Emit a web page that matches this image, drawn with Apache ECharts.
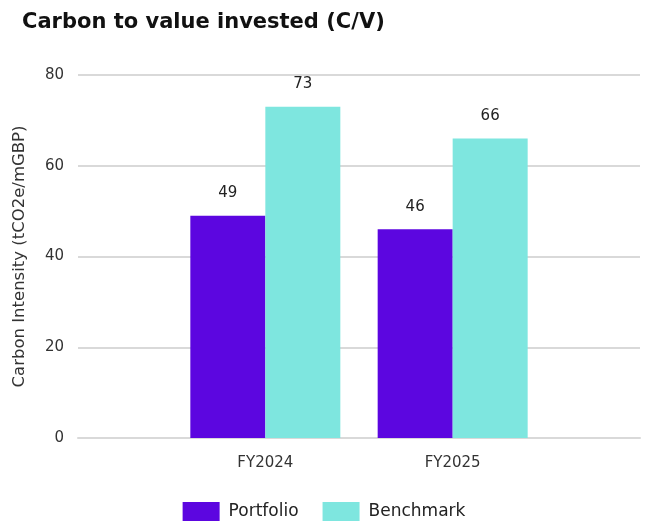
<!DOCTYPE html>
<html>
<head>
<meta charset="utf-8">
<script src="https://cdn.jsdelivr.net/npm/echarts@6/dist/echarts.min.js"></script>
<style>
  html, body { margin: 0; padding: 0; background: #fff; }
  #chart { width: 648px; height: 529px; }
</style>
</head>
<body>
<div id="chart"></div>
<script>
// empty slots at each end keep the two groups centred like the original
const categories = ['', 'FY2024', 'FY2025', '']
const portfolio = ['-', 49, 46, '-']
const benchmark = ['-', 73, 66, '-']
const yTicks = [0, 20, 40, 60, 80]

const myChart = echarts.init(document.getElementById('chart'))
const font = '"DejaVu Sans", sans-serif'

const option = {
  backgroundColor: '#fff',
  animation: false,
  textStyle: { fontFamily: font },
  title: {
    text: 'Carbon to value invested (C/V)',
    left: 17,
    top: 7,
    textStyle: { fontSize: 21, fontWeight: 'bold', color: '#111', fontFamily: font }
  },
  legend: {
    bottom: 3,
    left: 'center',
    itemWidth: 37,
    itemHeight: 19,
    itemGap: 24,
    icon: 'rect',
    textStyle: { fontSize: 17, color: '#222', padding: [0, 0, 0, 4] },
    data: ['Portfolio', 'Benchmark']
  },
  grid: { left: 78, right: 8, top: 75, bottom: 91 },
  xAxis: {
    type: 'category',
    data: categories,
    boundaryGap: false,
    axisLine: { lineStyle: { color: '#d9d9d9', width: 2 } },
    axisTick: { show: false },
    axisLabel: { fontSize: 15, color: '#333', margin: 18, interval: 0 }
  },
  yAxis: {
    type: 'value',
    min: yTicks[0],
    max: yTicks[yTicks.length - 1],
    interval: 20,
    name: 'Carbon Intensity (tCO2e/mGBP)',
    nameLocation: 'middle',
    nameGap: 50,
    nameTextStyle: { fontSize: 16.5, color: '#333' },
    axisLine: { show: false },
    axisTick: { show: false },
    axisLabel: { fontSize: 15, color: '#333', margin: 14 },
    splitLine: { lineStyle: { color: '#d9d9d9', width: 2 } }
  },
  series: [
    {
      name: 'Portfolio',
      type: 'bar',
      data: portfolio,
      barWidth: 75,
      barGap: '0%',
      itemStyle: { color: '#5c06e0' },
      label: { show: true, position: 'top', distance: 15, fontSize: 15, color: '#222' }
    },
    {
      name: 'Benchmark',
      type: 'bar',
      data: benchmark,
      barWidth: 75,
      barGap: '0%',
      itemStyle: { color: '#7ee6df' },
      label: { show: true, position: 'top', distance: 15, fontSize: 15, color: '#222' }
    }
  ]
}

myChart.setOption(option)
</script>
</body>
</html>
